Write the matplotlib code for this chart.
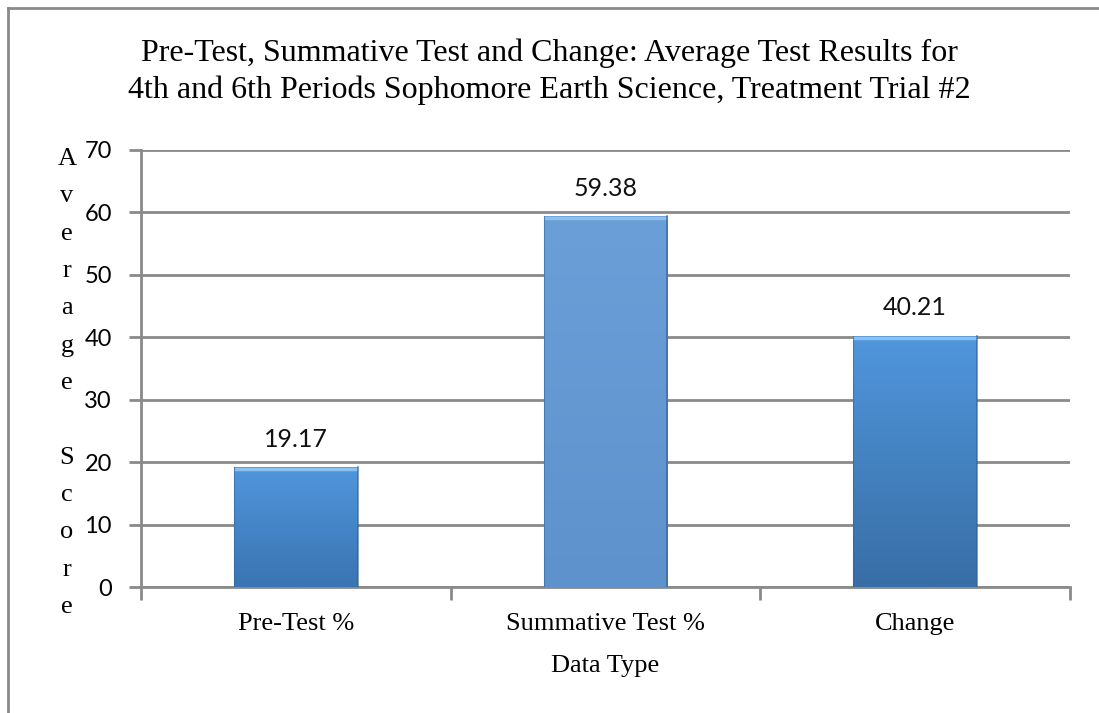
import matplotlib
matplotlib.use("Agg")
import matplotlib.pyplot as plt
from matplotlib.lines import Line2D
import numpy as np

categories = ["Pre-Test %", "Summative Test %", "Change"]
values = [19.17, 59.38, 40.21]
value_labels = ["19.17", "59.38", "40.21"]
y_ticks = [0, 10, 20, 30, 40, 50, 60, 70]
bar_tops = ["#5096dc", "#6a9fd8", "#5096dc"]
bar_bottoms = ["#3a74b2", "#5d92cc", "#386ea6"]

SERIF = "Liberation Serif"
SANS = "Lato"
GRAY = "#8a8a8a"


def hex2rgb(h):
    h = h.lstrip("#")
    return np.array([int(h[i:i + 2], 16) / 255 for i in (0, 2, 4)])


def main():
    fig = plt.figure(figsize=(10.99, 7.13), dpi=100)
    ax = fig.add_axes([141 / 1099, 1 - 587 / 713, (1070 - 141) / 1099, (587 - 150) / 713])

    x = np.arange(len(categories))
    bars = ax.bar(x, values, width=0.4, color=bar_tops, edgecolor="none", zorder=3)

    # vertical gradient on each bar, clipped to the bar shape
    for b, top, bot in zip(bars, bar_tops, bar_bottoms):
        t, bo = hex2rgb(top), hex2rgb(bot)
        n = 64
        frac = np.linspace(0, 1, n)[:, None]
        grad = bo * (1 - frac) + t * frac
        img = np.repeat(grad[:, None, :], 2, axis=1)
        x0, y0 = b.get_x(), b.get_y()
        w, h = b.get_width(), b.get_height()
        im = ax.imshow(img, extent=[x0, x0 + w, y0, y0 + h], origin="lower",
                       aspect="auto", zorder=4, interpolation="bilinear")
        im.set_clip_path(b)
        # bevel-ish edges
        ax.plot([x0, x0 + w], [y0 + h - 0.3, y0 + h - 0.3], color="#8cc0ee", lw=2.5,
                zorder=5, solid_capstyle="butt")
        ax.plot([x0 + w, x0 + w], [y0, y0 + h], color="#2f5f94", lw=1.2, alpha=0.7, zorder=5)
        ax.plot([x0, x0], [y0, y0 + h], color="#2f5f94", lw=0.8, alpha=0.5, zorder=5)

    for xi, v, lab in zip(x, values, value_labels):
        ax.annotate(lab, (xi, v), xytext=(0, 12), textcoords="offset points",
                    ha="center", va="bottom", fontsize=18, family=SANS, color="#111111")

    ax.set_xlim(-0.5, len(categories) - 0.5)
    ax.set_ylim(0, 70)
    ax.set_yticks(y_ticks)
    ax.set_yticklabels([str(t) for t in y_ticks], family=SANS, fontsize=17)
    ax.yaxis.grid(True, color=GRAY, lw=2, zorder=0)
    ax.set_axisbelow(True)

    ax.set_xticks(np.arange(-0.5, len(categories)), minor=False)
    ax.set_xticklabels([])
    ax.set_xticks(x, minor=True)
    ax.set_xticklabels(categories, minor=True, family=SERIF, fontsize=19)
    ax.tick_params(axis="x", which="major", length=9, width=2, color=GRAY, direction="out")
    ax.tick_params(axis="x", which="minor", length=0, pad=19)
    ax.tick_params(axis="y", length=9, width=2, color=GRAY, pad=12)

    for s in ["top", "right"]:
        ax.spines[s].set_visible(False)
    for s in ["left", "bottom"]:
        ax.spines[s].set_color(GRAY)
        ax.spines[s].set_linewidth(2)

    ax.set_xlabel("Data Type", family=SERIF, fontsize=19, labelpad=14)

    fig.text(0.5, 1 - 72 / 713,
             "Pre-Test, Summative Test and Change: Average Test Results for\n"
             "4th and 6th Periods Sophomore Earth Science, Treatment Trial #2",
             ha="center", va="center", family=SERIF, fontsize=23, linespacing=1.34)

    fig.text(67 / 1099, 1 - 383 / 713, "\n".join(list("Average Score")),
             ha="center", va="center", family=SERIF, fontsize=19, linespacing=1.9)

    # outer frame (top and left only visible in the crop)
    fig.add_artist(Line2D([8 / 1099, 1], [1 - 8 / 713, 1 - 8 / 713], color=GRAY, lw=2))
    fig.add_artist(Line2D([8 / 1099, 8 / 1099], [0, 1 - 8 / 713], color=GRAY, lw=2))

    fig.savefig("out.png", dpi=100)


if __name__ == "__main__":
    main()
